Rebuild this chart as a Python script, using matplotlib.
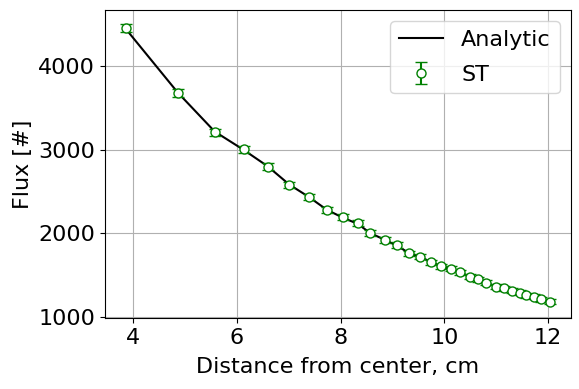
import matplotlib
matplotlib.use("Agg")
import matplotlib.pyplot as plt

distance_cm = [3.86, 4.86, 5.57, 6.13, 6.59, 7.01, 7.38, 7.73, 8.04, 8.33,
               8.57, 8.85, 9.08, 9.31, 9.53, 9.74, 9.93, 10.12, 10.30, 10.49,
               10.65, 10.81, 10.99, 11.14, 11.30, 11.45, 11.58, 11.73, 11.87, 12.03]
st_flux = [4452, 3674, 3207, 3003, 2795, 2576, 2436, 2273, 2190, 2118,
           1998, 1918, 1855, 1759, 1718, 1651, 1603, 1571, 1531, 1479,
           1448, 1407, 1359, 1340, 1311, 1287, 1256, 1239, 1208, 1180]
st_err = [48, 44, 42, 40, 39, 38, 37, 36, 35, 35,
          34, 33, 33, 32, 32, 31, 31, 30, 30, 30,
          29, 29, 28, 28, 28, 27, 27, 27, 27, 26]
analytic_flux = [4440, 3680, 3215, 2995, 2800, 2580, 2435, 2280, 2185, 2110,
                 2000, 1920, 1850, 1765, 1715, 1655, 1605, 1565, 1528, 1482,
                 1445, 1408, 1362, 1338, 1310, 1285, 1258, 1237, 1210, 1182]

plt.rcParams['font.size'] = 16
fig, ax = plt.subplots(figsize=(5.79, 3.89), dpi=100)
ax.plot(distance_cm, analytic_flux, color='black', label='Analytic', zorder=2)
ax.errorbar(distance_cm, st_flux, yerr=st_err, fmt='o', color='green',
            markerfacecolor='white', markeredgecolor='green', markersize=6.5,
            capsize=4, label='ST', zorder=3)
ax.set_xlabel('Distance from center, cm', fontsize=16, labelpad=7)
ax.set_ylabel('Flux [#]', fontsize=16)
ax.tick_params(labelsize=16)
ax.set_xticks([4, 6, 8, 10, 12])
ax.set_yticks([1000, 2000, 3000, 4000])
ax.grid(True)
ax.legend(loc='upper right', fontsize=16, labelspacing=0.65)
fig.subplots_adjust(left=0.181, right=0.986, top=0.974, bottom=0.183)
fig.savefig('out.png', dpi=100)
